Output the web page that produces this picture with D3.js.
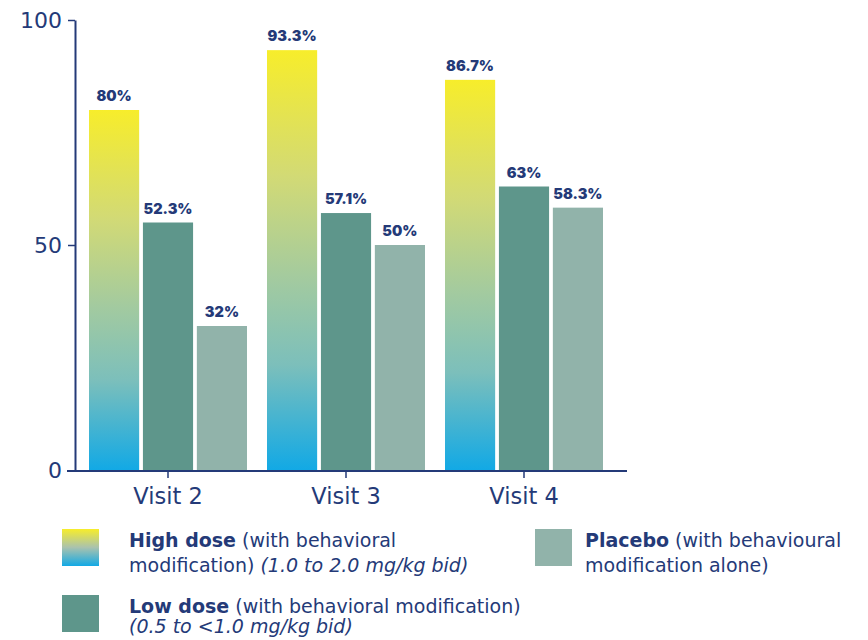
<!DOCTYPE html>
<html>
<head>
<meta charset="utf-8">
<script src="https://cdn.jsdelivr.net/npm/d3@7"></script>
<style>
  body { margin: 0; background: #fff; }
  svg { font-family: "DejaVu Sans", sans-serif; }
</style>
</head>
<body>
<svg id="chart" width="868" height="640"></svg>
<script>
// data
let visits = ["Visit 2", "Visit 3", "Visit 4"];
let series = ["high", "low", "placebo"];
// bar heights as drawn (the 52.3% bar is drawn at about 55)
let highDose = [80, 93.3, 86.7];
let lowDose = [55, 57.1, 63];
let placebo = [32, 50, 58.3];
let highLabels = ["80%", "93.3%", "86.7%"];
let lowLabels = ["52.3%", "57.1%", "63%"];
let placeboLabels = ["32%", "50%", "58.3%"];
let yTicks = [0, 50, 100];

let navy = "#243a78";
let colors = {high: "url(#hiGrad)", low: "#5e968b", placebo: "#91b3aa"};

let rows = [];
visits.forEach((v, i) => {
    rows.push({visit: v, key: "high", value: highDose[i], label: highLabels[i]});
    rows.push({visit: v, key: "low", value: lowDose[i], label: lowLabels[i]});
    rows.push({visit: v, key: "placebo", value: placebo[i], label: placeboLabels[i]});
});

let svg = d3.select("#chart");

// gradients
let defs = svg.append("defs");
let grad = defs.append("linearGradient").attr("id", "hiGrad")
    .attr("x1", 0).attr("y1", 0).attr("x2", 0).attr("y2", 1);
[["0%", "#f7ed2b"], ["30%", "#d2da75"], ["55%", "#a2caa0"], ["75%", "#7cbfbb"], ["100%", "#12a9e5"]]
    .forEach(s => grad.append("stop").attr("offset", s[0]).attr("stop-color", s[1]));
let lgrad = defs.append("linearGradient").attr("id", "legGrad")
    .attr("x1", 0).attr("y1", 0).attr("x2", 0).attr("y2", 1);
[["0%", "#f7ed2b"], ["50%", "#a9c2ae"], ["100%", "#12a9e5"]]
    .forEach(s => lgrad.append("stop").attr("offset", s[0]).attr("stop-color", s[1]));

let yMap = d3.scaleLinear().domain([0, 100]).range([470, 20]);
let x0 = d3.scaleBand().domain(visits).range([79, 613]).padding(0);
let x1 = d3.scaleBand().domain(series).range([10, 168]).paddingInner(0.07);

// bars
let groups = svg.append("g").selectAll("g").data(visits).join("g")
    .attr("transform", d => `translate(${x0(d)},0)`);

groups.selectAll("rect")
    .data(v => rows.filter(r => r.visit === v))
    .join("rect")
    .attr("x", d => x1(d.key))
    .attr("y", d => yMap(d.value))
    .attr("width", x1.bandwidth())
    .attr("height", d => yMap(0) - yMap(d.value))
    .attr("fill", d => colors[d.key]);

groups.selectAll("text")
    .data(v => rows.filter(r => r.visit === v))
    .join("text")
    .attr("x", d => x1(d.key) + x1.bandwidth() / 2)
    .attr("y", d => yMap(d.value) - 9)
    .attr("text-anchor", "middle")
    .attr("fill", navy)
    .style("font-family", "Inter, sans-serif")
    .style("font-size", "14.5px")
    .style("font-weight", 900)
    .text(d => d.label);

// y axis
let yAxis = svg.append("g").attr("transform", "translate(75,0)")
    .call(d3.axisLeft(yMap).tickValues(yTicks).tickSize(7).tickSizeOuter(0).tickPadding(6));
yAxis.select(".domain").attr("stroke", navy).attr("stroke-width", 2);
yAxis.selectAll(".tick line").attr("stroke", navy).attr("stroke-width", 1.5);
yAxis.selectAll(".tick text").attr("fill", navy)
    .style("font-size", "22px").style("font-family", "DejaVu Sans, sans-serif").attr("dy", "0.36em");
yAxis.selectAll(".tick").filter(d => d === 0).select("line").remove();

// x axis
let xAxis = svg.append("g").attr("transform", "translate(0,471)")
    .call(d3.axisBottom(x0).tickSize(7).tickSizeOuter(0).tickPadding(10));
xAxis.select(".domain").attr("d", "M67,0H627").attr("stroke", navy).attr("stroke-width", 2);
xAxis.selectAll(".tick line").attr("stroke", navy).attr("stroke-width", 1.5);
xAxis.selectAll(".tick text").attr("fill", navy)
    .style("font-size", "22.5px").style("font-family", "DejaVu Sans, sans-serif");

// legend
let legend = [
    {x: 62, y: 529, tx: 129, gap: 25, fill: "url(#legGrad)", lines: [
        [["High dose", "bold"], [" (with behavioral", "normal"]],
        [["modification) ", "normal"], ["(1.0 to 2.0 mg/kg bid)", "italic"]]]},
    {x: 62, y: 595, tx: 129, gap: 20, fill: colors.low, lines: [
        [["Low dose", "bold"], [" (with behavioral modification)", "normal"]],
        [["(0.5 to <1.0 mg/kg bid)", "italic"]]]},
    {x: 535, y: 529, tx: 585, gap: 25, fill: colors.placebo, lines: [
        [["Placebo", "bold"], [" (with behavioural", "normal"]],
        [["modification alone)", "normal"]]]}
];

let leg = svg.append("g").selectAll("g").data(legend).join("g");
leg.append("rect")
    .attr("x", d => d.x).attr("y", d => d.y)
    .attr("width", 37).attr("height", 37)
    .attr("fill", d => d.fill);
leg.each(function(d) {
    let g = d3.select(this);
    d.lines.forEach((line, i) => {
        let t = g.append("text")
            .attr("x", d.tx)
            .attr("y", d.y + 18 + i * d.gap)
            .attr("fill", navy)
            .style("font-size", "19px");
        line.forEach(p => {
            t.append("tspan").text(p[0])
                .style("font-weight", p[1] === "bold" ? 700 : 400)
                .style("font-style", p[1] === "italic" ? "italic" : "normal");
        });
    });
});
</script>
</body>
</html>
